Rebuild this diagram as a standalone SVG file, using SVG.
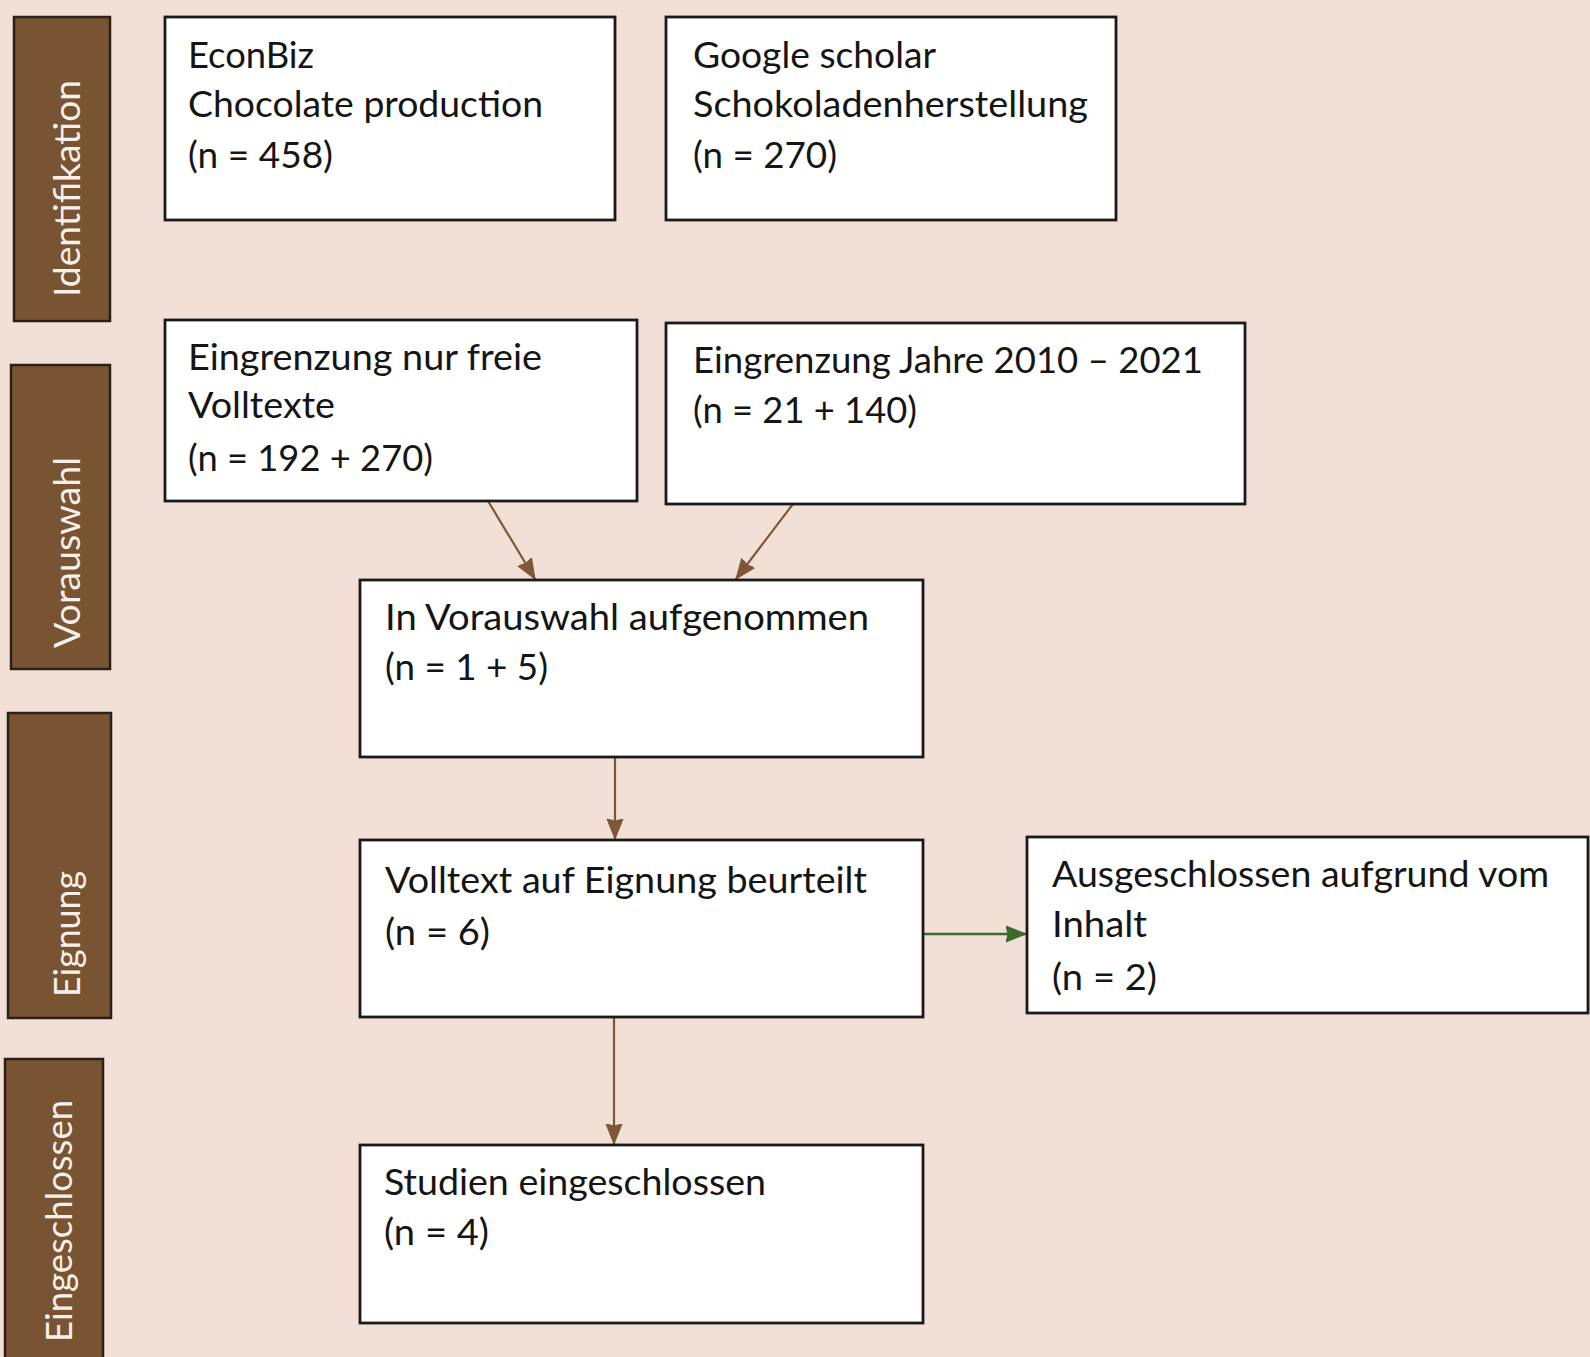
<svg xmlns="http://www.w3.org/2000/svg" width="1590" height="1357" viewBox="0 0 1590 1357">
<style>
.bg{fill:#f2e0d7}
.bar{fill:#795433;stroke:#2b2017;stroke-width:2.5}
.bt{font-family:Lato,"Open Sans","Liberation Sans",sans-serif;font-size:37px;fill:#f7efe8}
.box{fill:#ffffff;stroke:#1a1a1a;stroke-width:2.8}
.t{font-family:Lato,"Open Sans","Liberation Sans",sans-serif;font-size:37px;fill:#151515}
.c{stroke:#7d5836;stroke-width:2.2;fill:none}
.g{stroke:#3d6a2a;stroke-width:2.4;fill:none}
</style>
<defs>
<marker id="ab" markerUnits="userSpaceOnUse" markerWidth="22" markerHeight="20" refX="20" refY="10" orient="auto">
<path d="M0,2 L20,10 L0,18 L2,10 Z" fill="#7d5836" stroke="#7d5836" stroke-width="1"/>
</marker>
<marker id="ag" markerUnits="userSpaceOnUse" markerWidth="22" markerHeight="20" refX="20" refY="10" orient="auto">
<path d="M0,2 L20,10 L0,18 L2,10 Z" fill="#3d6a2a" stroke="#3d6a2a" stroke-width="1"/>
</marker>
</defs>
<rect class="bg" x="0" y="0" width="1590" height="1357"/>

<g id="bar-identifikation">
<rect class="bar" x="14" y="17" width="96" height="304"/>
<text class="bt" transform="translate(80,297) rotate(-90)" textLength="217" lengthAdjust="spacingAndGlyphs">Identifikation</text>
</g>
<g id="bar-vorauswahl">
<rect class="bar" x="11" y="365" width="99" height="304"/>
<text class="bt" transform="translate(80,648) rotate(-90)" textLength="191" lengthAdjust="spacingAndGlyphs">Vorauswahl</text>
</g>
<g id="bar-eignung">
<rect class="bar" x="8" y="713" width="103" height="305"/>
<text class="bt" transform="translate(80,997) rotate(-90)" textLength="126" lengthAdjust="spacingAndGlyphs">Eignung</text>
</g>
<g id="bar-eingeschlossen">
<rect class="bar" x="5" y="1059" width="98" height="310"/>
<text class="bt" transform="translate(72,1342) rotate(-90)" textLength="242" lengthAdjust="spacingAndGlyphs">Eingeschlossen</text>
</g>

<g id="connectors">
<line class="c" x1="488" y1="501" x2="535" y2="579" marker-end="url(#ab)"/>
<line class="c" x1="793" y1="504" x2="736" y2="579" marker-end="url(#ab)"/>
<line class="c" x1="615" y1="757" x2="615" y2="839" marker-end="url(#ab)"/>
<line class="c" x1="614" y1="1017" x2="614" y2="1144" marker-end="url(#ab)"/>
<line class="g" x1="923" y1="934" x2="1026" y2="934" marker-end="url(#ag)"/>
</g>

<g id="node-econbiz">
<rect class="box" x="165" y="17" width="450" height="203"/>
<text class="t" x="188" y="68" textLength="126" lengthAdjust="spacingAndGlyphs">EconBiz</text>
<text class="t" x="188" y="117" textLength="355" lengthAdjust="spacingAndGlyphs">Chocolate production</text>
<text class="t" x="188" y="168" textLength="145" lengthAdjust="spacingAndGlyphs">(n = 458)</text>
</g>
<g id="node-google">
<rect class="box" x="666" y="17" width="450" height="203"/>
<text class="t" x="693" y="68" textLength="243" lengthAdjust="spacingAndGlyphs">Google scholar</text>
<text class="t" x="693" y="117" textLength="395" lengthAdjust="spacingAndGlyphs">Schokoladenherstellung</text>
<text class="t" x="693" y="168" textLength="144" lengthAdjust="spacingAndGlyphs">(n = 270)</text>
</g>
<g id="node-volltexte">
<rect class="box" x="165" y="320" width="472" height="181"/>
<text class="t" x="188" y="370" textLength="354" lengthAdjust="spacingAndGlyphs">Eingrenzung nur freie</text>
<text class="t" x="188" y="418" textLength="147" lengthAdjust="spacingAndGlyphs">Volltexte</text>
<text class="t" x="188" y="471" textLength="245" lengthAdjust="spacingAndGlyphs">(n = 192 + 270)</text>
</g>
<g id="node-jahre">
<rect class="box" x="666" y="323" width="579" height="181"/>
<text class="t" x="693" y="373" textLength="510" lengthAdjust="spacingAndGlyphs">Eingrenzung Jahre 2010 – 2021</text>
<text class="t" x="693" y="423" textLength="224" lengthAdjust="spacingAndGlyphs">(n = 21 + 140)</text>
</g>
<g id="node-vorauswahl">
<rect class="box" x="360" y="580" width="563" height="177"/>
<text class="t" x="385" y="630" textLength="484" lengthAdjust="spacingAndGlyphs">In Vorauswahl aufgenommen</text>
<text class="t" x="385" y="680" textLength="163" lengthAdjust="spacingAndGlyphs">(n = 1 + 5)</text>
</g>
<g id="node-eignung">
<rect class="box" x="360" y="840" width="563" height="177"/>
<text class="t" x="385" y="893" textLength="482" lengthAdjust="spacingAndGlyphs">Volltext auf Eignung beurteilt</text>
<text class="t" x="385" y="945" textLength="105" lengthAdjust="spacingAndGlyphs">(n = 6)</text>
</g>
<g id="node-ausgeschlossen">
<rect class="box" x="1027" y="837" width="561" height="176"/>
<text class="t" x="1052" y="887" textLength="497" lengthAdjust="spacingAndGlyphs">Ausgeschlossen aufgrund vom</text>
<text class="t" x="1052" y="937" textLength="95" lengthAdjust="spacingAndGlyphs">Inhalt</text>
<text class="t" x="1052" y="990" textLength="105" lengthAdjust="spacingAndGlyphs">(n = 2)</text>
</g>
<g id="node-studien">
<rect class="box" x="360" y="1145" width="563" height="178"/>
<text class="t" x="384" y="1195" textLength="382" lengthAdjust="spacingAndGlyphs">Studien eingeschlossen</text>
<text class="t" x="384" y="1245" textLength="105" lengthAdjust="spacingAndGlyphs">(n = 4)</text>
</g>
</svg>
